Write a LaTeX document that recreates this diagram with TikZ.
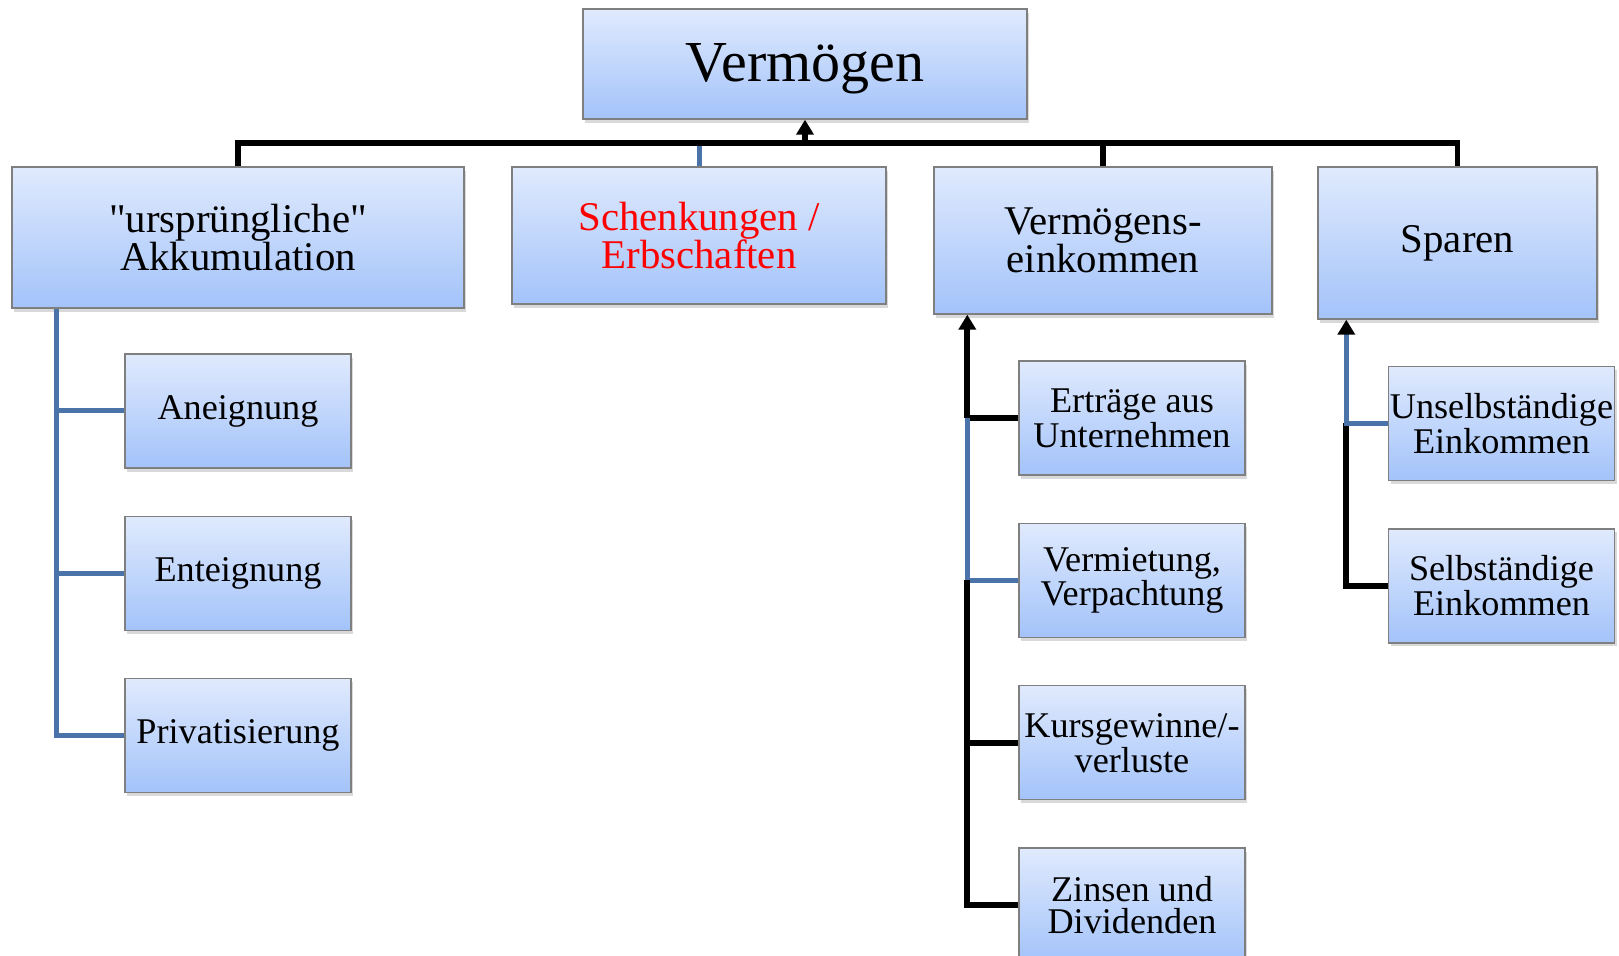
\documentclass[tikz,border=0pt]{standalone}
\usepackage{fontspec}
\setmainfont{Liberation Serif}
\usetikzlibrary{arrows.meta,shadows,positioning}
\definecolor{boxtop}{HTML}{E0EAFD}
\definecolor{boxbot}{HTML}{A3C3FA}
\definecolor{boxline}{HTML}{7F7F7F}
\definecolor{linkblue}{HTML}{4A74A9}

\begin{document}
\begin{tikzpicture}[x=0.5pt,y=-0.5pt]
\tikzset{box/.style={draw=boxline,line width=0.7pt,top color=boxtop,bottom color=boxbot,
           align=center,inner sep=0pt,
           drop shadow={shadow xshift=1.2pt,shadow yshift=-1.8pt,opacity=.3}},
         topbox/.style={box,minimum width=222pt,minimum height=55pt,font=\fontsize{29}{30}\selectfont},
         mainbox/.style={box,font=\fontsize{20.4}{19}\selectfont},
         subbox/.style={box,minimum width=113pt,minimum height=57pt,font=\fontsize{18.1}{16.4}\selectfont},
         blk/.style={draw=black,line width=2.9pt},
         blu/.style={draw=linkblue,line width=2.5pt},
         up/.style={-{Triangle[width=8.5pt,length=7.5pt,color=black]}}}
\useasboundingbox (0,0) rectangle (1619,956);
% boxes
\node[topbox] (verm) at (805,64) {\raisebox{-2.5pt}[\height][\depth]{Vermögen}};
\node[mainbox,minimum width=226pt,minimum height=70.5pt] (akk) at (238,237.5) {\textquotedbl ursprüngliche\textquotedbl\\Akkumulation};
\node[mainbox,minimum width=187pt,minimum height=68.5pt,text=red] (sch) at (699,235.5) {Schenkungen /\\Erbschaften};
\node[mainbox,minimum width=169pt,minimum height=73.5pt] (vek) at (1103,240.5) {Vermögens-\\einkommen};
\node[mainbox,minimum width=139.5pt,minimum height=76pt] (spa) at (1457.5,243) {Sparen};
\node[subbox] (ane) at (238,411) {Aneignung};
\node[subbox,below=23.5pt of ane] (ent) {Enteignung};
\node[subbox,below=23.5pt of ent] (pri) {Privatisierung};
\node[subbox] (ert) at (1132,418) {Erträge aus\\Unternehmen};
\node[subbox,below=23.5pt of ert] (vmt) {Vermietung,\\Verpachtung};
\node[subbox,below=23.5pt of vmt] (kur) {Kursgewinne/-\\verluste};
\node[subbox,below=23.5pt of kur] (zin) {Zinsen und\\Dividenden};
\node[subbox] (uns) at (1501.5,423.5) {Unselbständige\\Einkommen};
\node[subbox,below=23.5pt of uns] (sel) {Selbständige\\Einkommen};
% top level links
\coordinate (bar) at (805,143);
\draw[blu] (sch.north) -- (sch.north |- bar);
\draw[blk] (akk.north) |- (bar) -| (spa.north);
\draw[blk] (vek.north) -- (vek.north |- bar);
\draw[blk,up] (bar) -- (verm.south);
% left branch
\coordinate (lspine) at ([xshift=22.5pt]akk.south west);
\draw[blu] (lspine) |- (pri.west);
\foreach \n in {ane,ent}
  \draw[blu] (\n.west) -- (\n.west -| lspine);
% income branch
\coordinate (vspine) at ([xshift=17pt]vek.south west);
\draw[blk,up] (ert.west -| vspine) -- (vspine);
\draw[blk] (ert.west) -- (ert.west -| vspine);
\draw[blu] (ert.west -| vspine) |- (vmt.west);
\draw[blk] (vmt.west -| vspine) |- (zin.west);
\draw[blk] (kur.west) -- (kur.west -| vspine);
% savings branch
\coordinate (sspine) at ([xshift=14.5pt]spa.south west);
\draw[blk] (uns.west -| sspine) |- (sel.west);
\draw[blu,up] (uns.west) -| (sspine);
\end{tikzpicture}
\end{document}
